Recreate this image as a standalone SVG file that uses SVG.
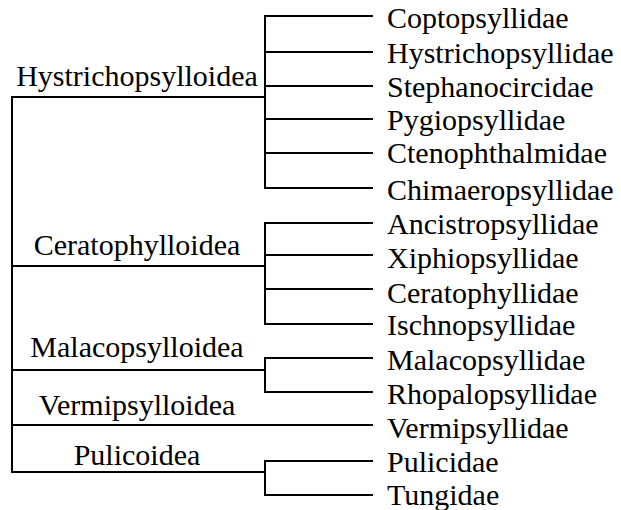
<svg xmlns="http://www.w3.org/2000/svg" width="621" height="510" viewBox="0 0 621 510">
<style>
.ln{stroke:#000;stroke-width:2;fill:none;stroke-linecap:square}
text{font-family:"Liberation Serif","Times New Roman",serif;font-size:30px;fill:#000}
.grp{text-anchor:middle}
</style>
<rect width="621" height="510" fill="#fff"/>
<g id="connectors">
<path class="ln" d="M12,97V472M12,97H265M12,266H265M12,370H265M12,425H372M12,472H265"/>
<path class="ln" d="M265,16V188M265,16H372M265,52H372M265,86H372M265,119H372M265,153H372M265,188H372"/>
<path class="ln" d="M265,223V324M265,223H372M265,255H372M265,289H372M265,324H372"/>
<path class="ln" d="M265,358V392M265,358H372M265,392H372"/>
<path class="ln" d="M265,461V495M265,461H372M265,495H372"/>
</g>
<g id="superfamilies">
<g id="n-hystrichopsylloidea"><text class="grp" x="137" y="86">Hystrichopsylloidea</text></g>
<g id="n-ceratophylloidea"><text class="grp" x="137" y="255">Ceratophylloidea</text></g>
<g id="n-malacopsylloidea"><text class="grp" x="137" y="357">Malacopsylloidea</text></g>
<g id="n-vermipsylloidea"><text class="grp" x="137" y="415">Vermipsylloidea</text></g>
<g id="n-pulicoidea"><text class="grp" x="137" y="465">Pulicoidea</text></g>
</g>
<g id="families">
<g id="n-coptopsyllidae"><text x="387" y="28">Coptopsyllidae</text></g>
<g id="n-hystrichopsyllidae"><text x="387" y="63">Hystrichopsyllidae</text></g>
<g id="n-stephanocircidae"><text x="387" y="97">Stephanocircidae</text></g>
<g id="n-pygiopsyllidae"><text x="387" y="130">Pygiopsyllidae</text></g>
<g id="n-ctenophthalmidae"><text x="387" y="163">Ctenophthalmidae</text></g>
<g id="n-chimaeropsyllidae"><text x="387" y="200">Chimaeropsyllidae</text></g>
<g id="n-ancistropsyllidae"><text x="387" y="234">Ancistropsyllidae</text></g>
<g id="n-xiphiopsyllidae"><text x="387" y="268">Xiphiopsyllidae</text></g>
<g id="n-ceratophyllidae"><text x="387" y="303">Ceratophyllidae</text></g>
<g id="n-ischnopsyllidae"><text x="387" y="335">Ischnopsyllidae</text></g>
<g id="n-malacopsyllidae"><text x="387" y="370">Malacopsyllidae</text></g>
<g id="n-rhopalopsyllidae"><text x="387" y="404">Rhopalopsyllidae</text></g>
<g id="n-vermipsyllidae"><text x="387" y="438">Vermipsyllidae</text></g>
<g id="n-pulicidae"><text x="387" y="472">Pulicidae</text></g>
<g id="n-tungidae"><text x="387" y="505">Tungidae</text></g>
</g>
</svg>
